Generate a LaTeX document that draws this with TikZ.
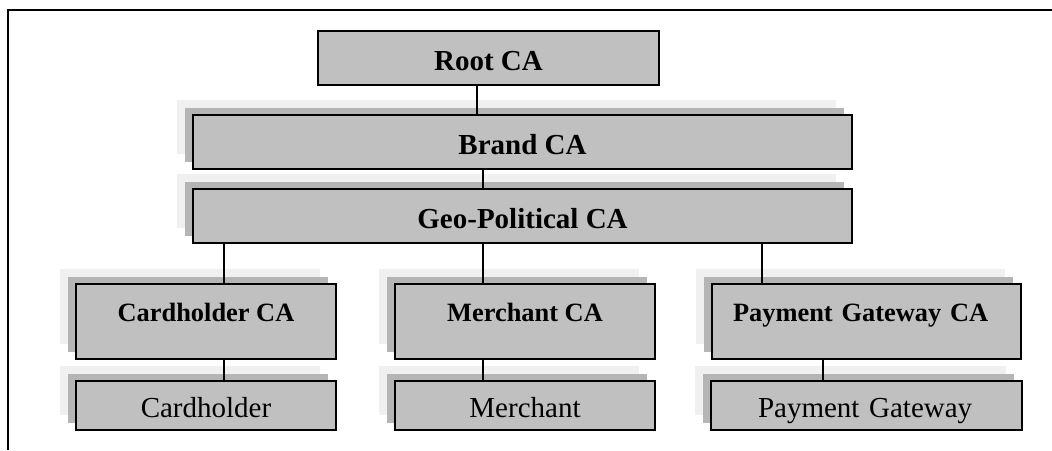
\documentclass[tikz,border=0pt]{standalone}
\usepackage{fontspec}
\setmainfont{Liberation Serif}
\usetikzlibrary{positioning, shadows, calc}
\definecolor{cbox}{HTML}{C0C0C0}
\definecolor{cshade}{HTML}{B5B5B5}
\definecolor{cpale}{HTML}{F0F0F0}
\tikzset{
  every picture/.style={line width=1.2pt},
  box/.style={draw=black, fill=cbox, line width=1.6pt, inner sep=0pt, outer sep=0pt, align=center},
  stacked/.style={copy shadow={shadow xshift=-16pt, shadow yshift=15pt, fill=cpale, draw=none},
                  copy shadow={shadow xshift=-8pt, shadow yshift=7.5pt, fill=cshade, draw=none}},
  topca/.style={box, minimum height=54pt, text height=24pt, text depth=0pt,
                font=\fontsize{29}{34}\selectfont\bfseries},
  subca/.style={box, stacked, minimum height=75pt, text height=18pt, text depth=18pt,
                font=\fontsize{26.4}{31}\selectfont\bfseries},
  leaf/.style={box, stacked, minimum height=49pt, text height=23pt, text depth=0pt,
               font=\fontsize{29}{34}\selectfont},
  link/.style={draw=black, line width=1.2pt},
}

\begin{document}
\begin{tikzpicture}[x=1pt, y=-1pt]
  \useasboundingbox (0,0) rectangle (1052,450);
  % frame
  \draw[line width=1.6pt] (8,450) -- (8,10) -- (1052,10);
  % upper chain
  \node[topca, minimum width=341pt] (root) at (488.5,58) {Root CA};
  \node[topca, stacked, minimum width=659pt] (brand) at (522.5,142) {Brand CA};
  \node[topca, stacked, minimum width=659pt] (geo) at (522.5,216) {Geo-Political CA};
  % sub CAs
  \node[subca, minimum width=260pt] (cca) at (206,321.5) {Cardholder CA};
  \node[subca, minimum width=260pt] (mca) at (525,321.5) {Merchant CA};
  \node[subca, text width=267pt, inner xsep=21pt, align=left] (pca) at (866.5,321.5) {Payment Gateway CA};
  % end entities
  \node[leaf, minimum width=260pt] (holder) at (206,405.5) {Cardholder};
  \node[leaf, minimum width=260pt] (merch) at (525,405.5) {Merchant};
  \node[leaf, text width=217pt, inner xsep=47pt, align=left] (gate) at (866.5,405.5) {Payment Gateway};
  % links
  \draw[link] ([xshift=-11.5pt]root.south) -- ([xshift=-11.5pt]root.south |- brand.north);
  \draw[link] ([xshift=-39.5pt]brand.south) -- ([xshift=-39.5pt]brand.south |- geo.north);
  \draw[link] ([xshift=18pt]cca.north) -- ([xshift=18pt]cca.north |- geo.south);
  \draw[link] ([xshift=-42pt]mca.north) -- ([xshift=-42pt]mca.north |- geo.south);
  \draw[link] ([xshift=-104.5pt]pca.north) -- ([xshift=-104.5pt]pca.north |- geo.south);
  \draw[link] ([xshift=18pt]cca.south) -- ([xshift=18pt]cca.south |- holder.north);
  \draw[link] ([xshift=-42pt]mca.south) -- ([xshift=-42pt]mca.south |- merch.north);
  \draw[link] ([xshift=-43.5pt]pca.south) -- ([xshift=-43.5pt]pca.south |- gate.north);
\end{tikzpicture}
\end{document}
